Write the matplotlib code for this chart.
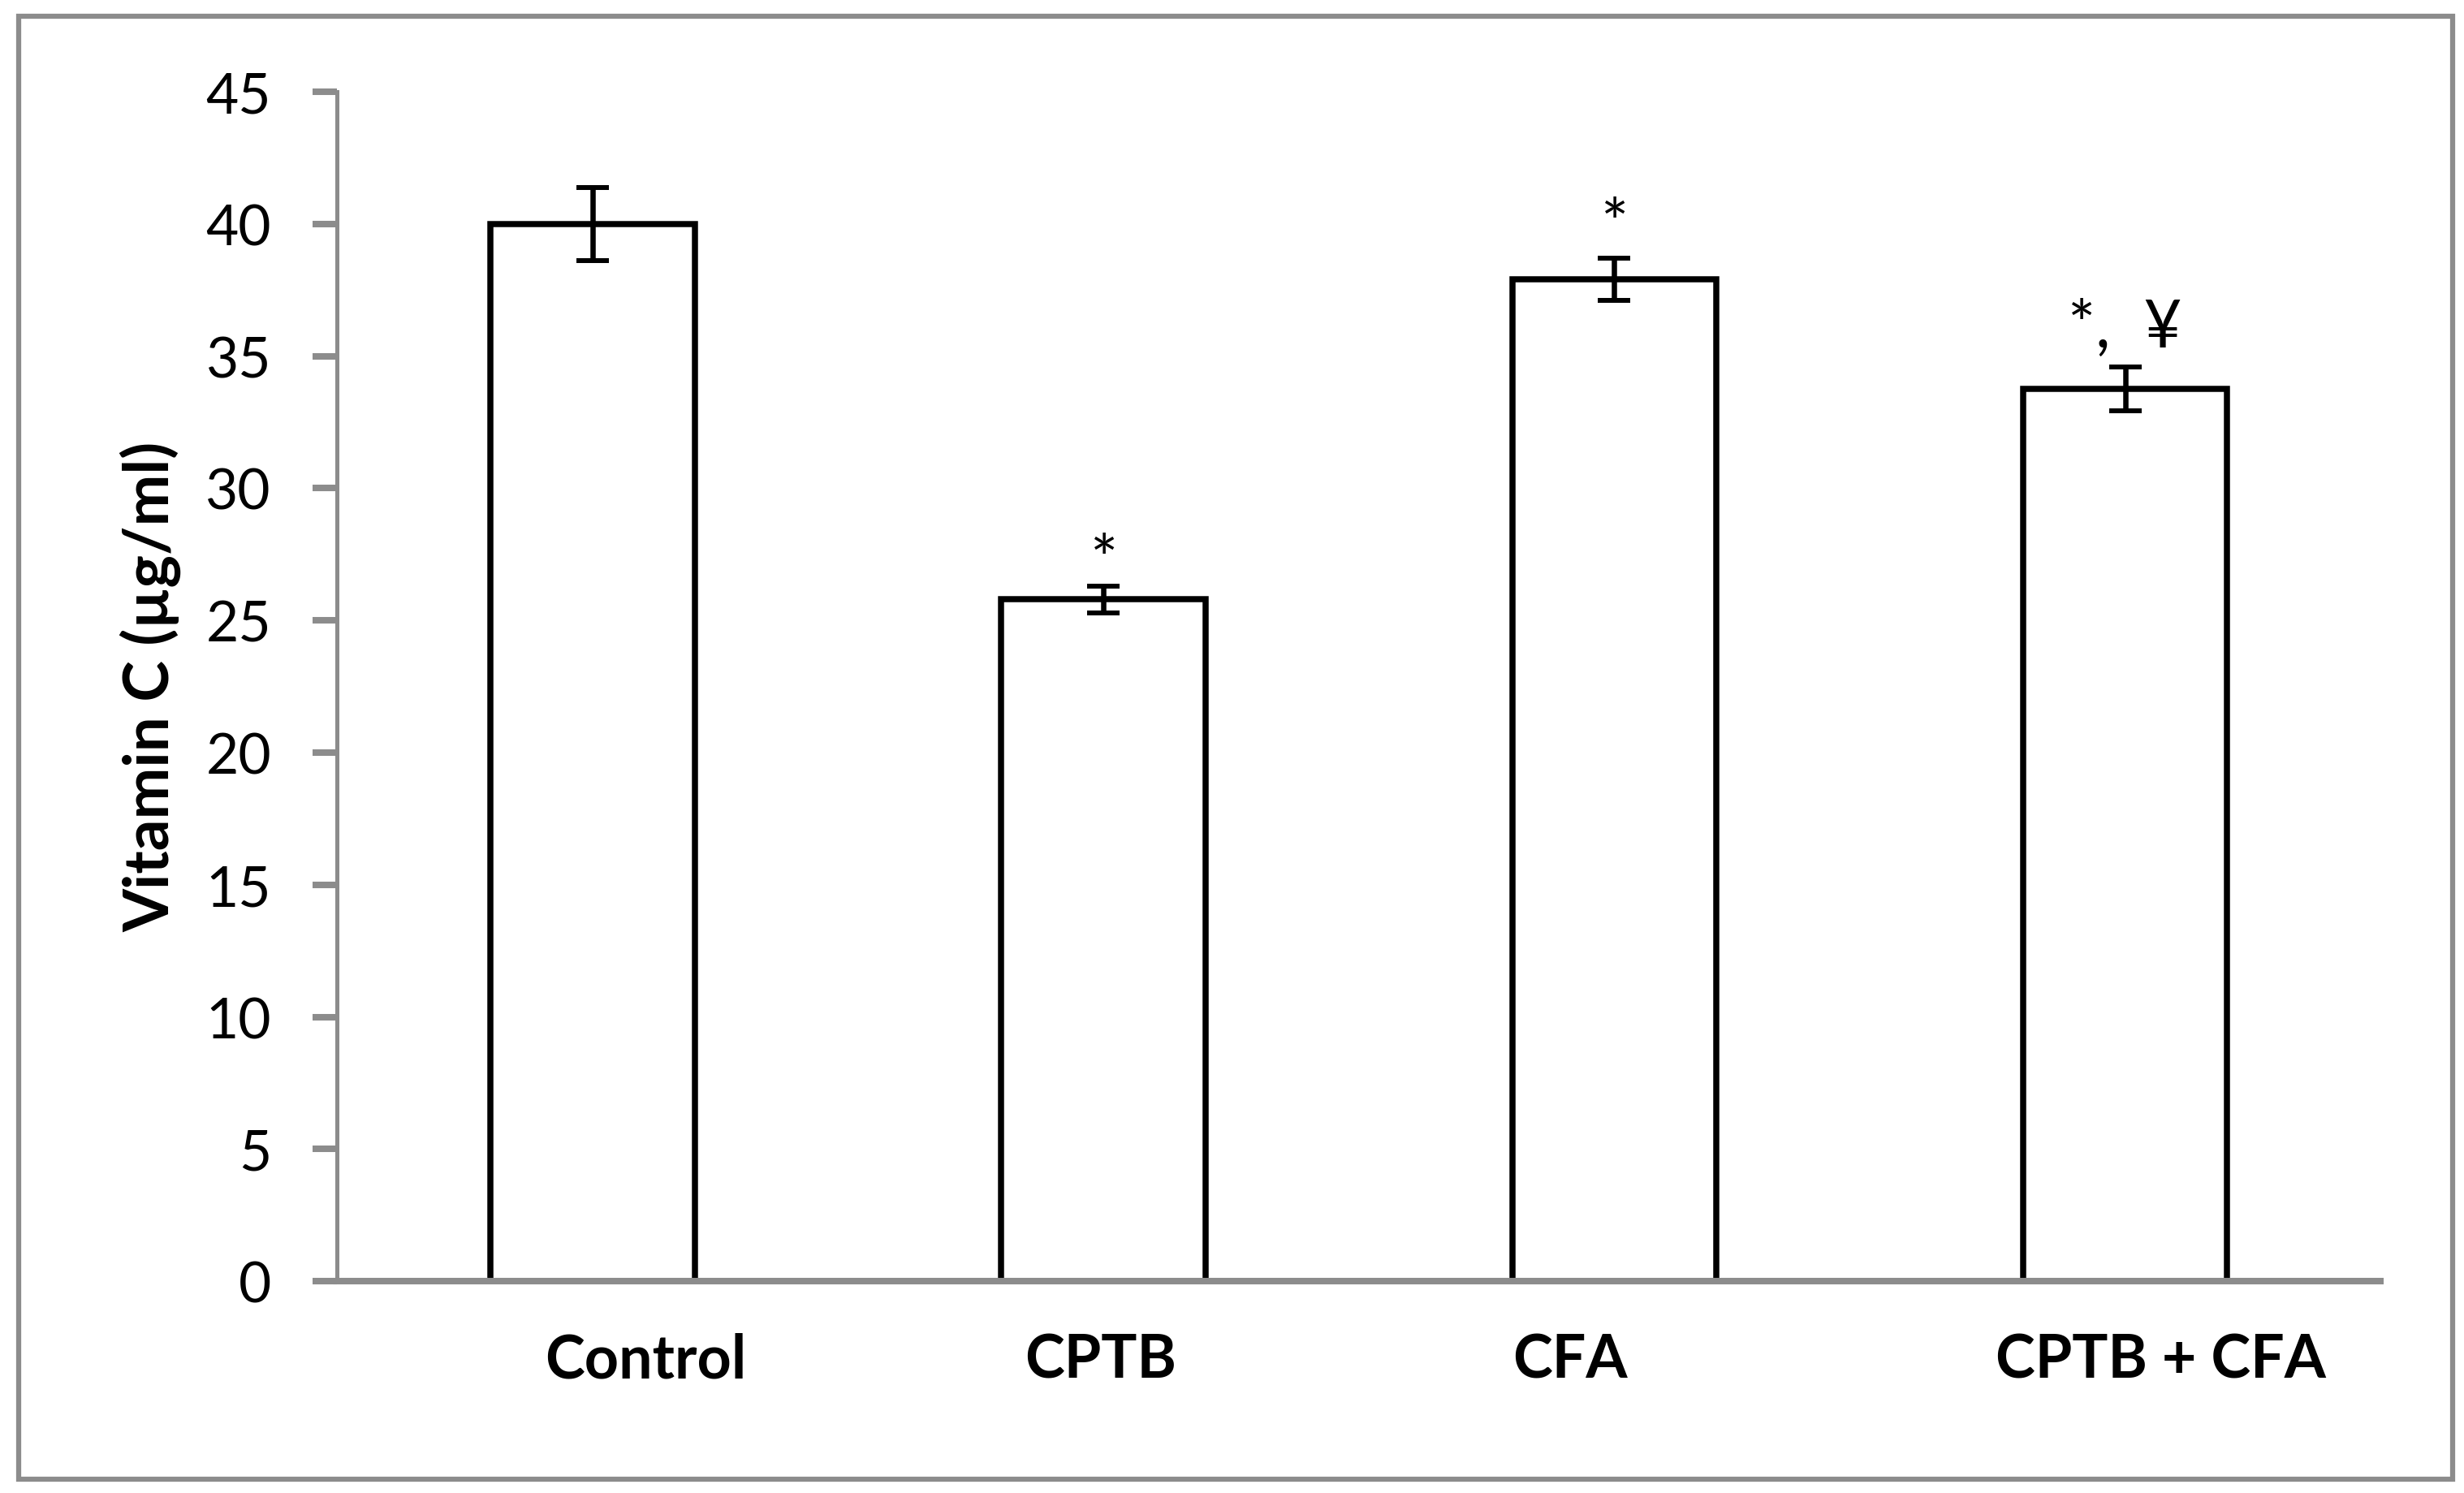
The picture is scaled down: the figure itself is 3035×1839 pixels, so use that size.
import numpy as np
import matplotlib
matplotlib.use('Agg')
from matplotlib import pyplot as plt
from matplotlib.patches import Rectangle
import matplotlib.transforms as mtransforms

plt.rcParams['font.family'] = ['Lato', 'DejaVu Sans']

# data
groups = ['Control', 'CPTB', 'CFA', 'CPTB + CFA']
vitc_mean = [40.0, 25.8, 37.9, 33.75]
vitc_err = [1.38, 0.51, 0.8, 0.83]
sig_marks = ['', '*', '*', '*,  ¥']

# layout tweaks (labels are not centred under bars in the original)
label_shift = [0.104, -0.006, -0.086, 0.07]
mark_offset = [0, 4, 12, 18]   # points above the error bar top

gray = '#8c8c8c'
x = np.arange(len(groups))

fig = plt.figure(figsize=(30.35, 18.4), dpi=100)
ax = fig.add_axes([0.1369, 0.1418, 0.9661 - 0.1369, 0.9380 - 0.1418])

ax.bar(x, vitc_mean, width=0.4, color='white', edgecolor='black', linewidth=5.4, zorder=2)
ax.errorbar(x, vitc_mean, yerr=vitc_err, fmt='none', ecolor='black',
            elinewidth=4.7, capsize=14.5, capthick=4.3, zorder=3)

for xi, m, e, s, off in zip(x, vitc_mean, vitc_err, sig_marks, mark_offset):
    if s:
        ax.annotate(s, xy=(xi, m + e), xytext=(0, off), textcoords='offset points',
                    ha='center', va='baseline', fontsize=58)

ax.set_xlim(-0.5, 3.5)
ax.set_ylim(0, 45)
ax.set_yticks(np.arange(0, 46, 5))
ax.tick_params(axis='y', length=21.6, width=5.8, color=gray, pad=37, labelsize=50)
ax.set_xticks([])

trans = mtransforms.blended_transform_factory(ax.transData, ax.transAxes)
for xi, g, sh in zip(x, groups, label_shift):
    ax.text(xi + sh, -0.0805, g, transform=trans, ha='center', va='baseline',
            fontsize=53, fontweight='bold')

for side in ['top', 'right']:
    ax.spines[side].set_visible(False)
ax.spines['left'].set_color(gray)
ax.spines['left'].set_linewidth(3.6)
ax.spines['bottom'].set_color(gray)
ax.spines['bottom'].set_linewidth(5.8)
ax.spines['bottom'].set_zorder(4)

fig.text(186 / 3035, 1 - 846 / 1840, 'Vitamin C (µg/ml)', rotation=90,
         ha='center', va='center', fontsize=55, fontweight='bold')

# grey frame round the whole chart
fig.patches.append(Rectangle((23 / 3035, 1 - 1823 / 1840), (3021 - 23) / 3035, (1823 - 21) / 1840,
                             transform=fig.transFigure, fill=False, edgecolor=gray,
                             linewidth=4.5, zorder=10))

fig.savefig('out.png', dpi=100, facecolor='white')
